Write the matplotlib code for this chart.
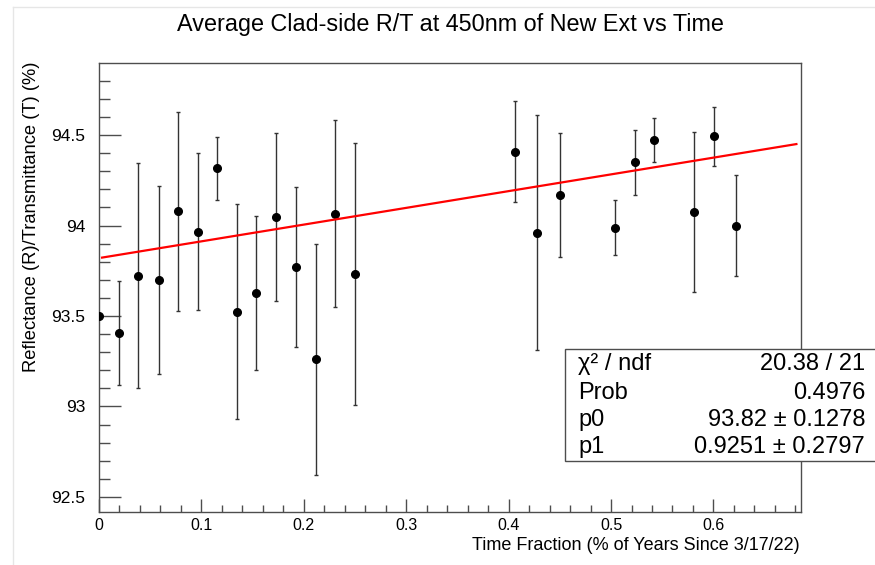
import matplotlib
matplotlib.use('Agg')
import matplotlib.pyplot as plt
from matplotlib.lines import Line2D
from matplotlib.patches import Rectangle
from matplotlib.ticker import MultipleLocator, FuncFormatter
import numpy as np

plt.rcParams['font.family'] = ['Liberation Sans', 'DejaVu Sans']

# time fraction (years since 3/17/22) and averaged R/T at 450nm
time_frac = [0.0, 0.0192, 0.0384, 0.0586, 0.0775, 0.0964, 0.1152, 0.1345,
             0.1533, 0.1732, 0.1924, 0.2116, 0.2308, 0.2500, 0.4060, 0.4277,
             0.4499, 0.5042, 0.5234, 0.5423, 0.5813, 0.6003, 0.6220]
rt_avg = [93.50, 93.408, 93.723, 93.70, 94.078, 93.966, 94.316, 93.524,
          93.627, 94.047, 93.772, 93.261, 94.064, 93.734, 94.408, 93.96,
          94.17, 93.988, 94.349, 94.472, 94.073, 94.493, 93.999]
rt_err = [0.0, 0.288, 0.62, 0.519, 0.548, 0.434, 0.173, 0.594,
          0.428, 0.463, 0.442, 0.639, 0.517, 0.723, 0.28, 0.648,
          0.343, 0.153, 0.181, 0.121, 0.442, 0.164, 0.279]

# pol1 fit result
p0, p0_err = 93.82, 0.1278
p1, p1_err = 0.9251, 0.2797
chi2, ndf = 20.38, 21
prob = 0.4976
fit_xmin, fit_xmax = 0.003, 0.681

fig = plt.figure(figsize=(8.75, 5.65), dpi=100)
ax = fig.add_axes([99/875, 1-512/565, (801-99)/875, (512-63)/565])

ax.errorbar(time_frac, rt_avg, yerr=rt_err, fmt='o', color='black', ms=5.5,
            ecolor='#333333', elinewidth=1.0, capsize=1.6, capthick=1.0, zorder=3)

xf = np.linspace(fit_xmin, fit_xmax, 100)
ax.plot(xf, p0 + p1*xf, color='#ff0000', lw=1.6, zorder=4)

ax.set_xlim(0, 0.6855)
ax.set_ylim(92.417, 94.898)

edge = '#4d4d4d'
for s in ax.spines.values():
    s.set_color(edge)
    s.set_linewidth(1.0)

ax.xaxis.set_major_locator(MultipleLocator(0.1))
ax.xaxis.set_minor_locator(MultipleLocator(0.02))
ax.yaxis.set_major_locator(MultipleLocator(0.5))
ax.yaxis.set_minor_locator(MultipleLocator(0.1))
fmt = FuncFormatter(lambda v, p: '%g' % round(v, 3))
ax.xaxis.set_major_formatter(fmt)
ax.yaxis.set_major_formatter(fmt)

ax.tick_params(axis='both', which='both', direction='in', color=edge, width=1.0,
               top=False, right=False)
ax.tick_params(axis='y', which='major', length=16, pad=10, labelsize=12.5)
ax.tick_params(axis='y', which='minor', length=8)
ax.tick_params(axis='x', which='major', length=9.5, pad=4, labelsize=11.5)
ax.tick_params(axis='x', which='minor', length=4.7)

fig.text(450/875, 1-25/565, 'Average Clad-side R/T at 450nm of New Ext vs Time',
         ha='center', va='center', fontsize=16.8)
fig.text(800/875, 1-546/565, 'Time Fraction (% of Years Since 3/17/22)',
         ha='right', va='center', fontsize=13)
fig.text(32/875, 1-62/565, 'Reflectance (R)/Transmittance (T) (%)',
         ha='center', va='top', rotation=90, fontsize=13.2)

# stats box
fig.add_artist(Rectangle((565/875, 1-461/565), 0.5, (461-349)/565,
                         transform=fig.transFigure, facecolor='white',
                         edgecolor=edge, lw=1.0, zorder=10))
rows = [('χ² / ndf', '%.2f / %d' % (chi2, ndf)),
        ('Prob', '%.4f' % prob),
        ('p0', '%.2f ± %.4f' % (p0, p0_err)),
        ('p1', '%.4f ± %.4f' % (p1, p1_err))]
ys = [364, 392.7, 420, 446.7]
for (lab, val), yy in zip(rows, ys):
    fig.text(578/875, 1-yy/565, lab, ha='left', va='center', fontsize=17, zorder=11)
    fig.text(865/875, 1-yy/565, val, ha='right', va='center', fontsize=17, zorder=11)

# faint screenshot frame
fig.add_artist(Line2D([13/875, 1], [1-7/565, 1-7/565], color='#e6e6e6', lw=1))
fig.add_artist(Line2D([13/875, 13/875], [0, 1-7/565], color='#e6e6e6', lw=1))

fig.savefig('out.png', dpi=100)
